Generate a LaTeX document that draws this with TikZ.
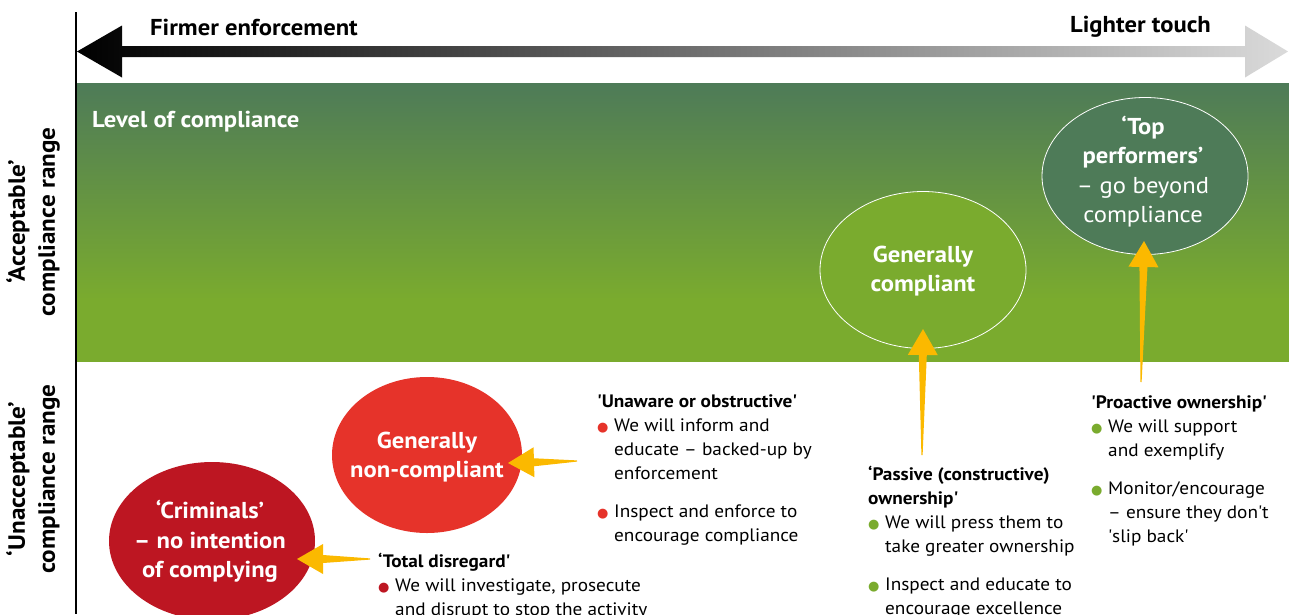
\documentclass[tikz,border=0pt]{standalone}
\usepackage{fontspec}
\setmainfont{PT Sans}[FakeStretch=1.07]
\newfontfamily\dejavu{DejaVu Sans}
\usetikzlibrary{shapes.geometric,calc}

\definecolor{crimred}{HTML}{BD1622}
\definecolor{ncred}{HTML}{E6332A}
\definecolor{leafgreen}{HTML}{7AAB2E}
\definecolor{pinegreen}{HTML}{4E7B58}
\definecolor{gold}{HTML}{FBB900}
\definecolor{lightgrey}{HTML}{DADADA}

% straight apostrophe and coloured bullet
\newcommand\stq{\textquotesingle}
\newcommand\bul[1]{\makebox[17pt][l]{\textcolor{#1}{\dejavu\fontsize{13}{13}\selectfont ●}}}
\newcommand\ind{\hspace*{17pt}}

% tapered gold arrow from tail #1 to tip #2
\newcommand\goldarrow[2]{%
  \path ($(#2)!26pt!(#1)$) coordinate (gaB);
  \fill[gold] (#2) -- ($(gaB)!15pt!90:(#2)$) -- ($(gaB)!4pt!90:(#2)$)
    -- ($(#1)!0.6pt!90:(#2)$) -- ($(#1)!0.6pt!-90:(#2)$)
    -- ($(gaB)!4pt!-90:(#2)$) -- ($(gaB)!15pt!-90:(#2)$) -- cycle;}

\tikzset{
  bubble/.style={ellipse, inner sep=0pt},
  bubbletext/.style={inner sep=0pt, text=white, align=center,
    font=\fontsize{23}{29.5}\selectfont\bfseries},
  block/.style={inner sep=0pt, align=left, anchor=north west,
    font=\fontsize{18}{24}\selectfont},
  sidelabel/.style={rotate=90, align=center, inner sep=0pt,
    font=\fontsize{23.5}{30}\selectfont\bfseries},
  toplabel/.style={inner sep=0pt, font=\fontsize{23}{26}\selectfont\bfseries}
}

\begin{document}
\begin{tikzpicture}[x=1pt,y=-1pt]
\useasboundingbox (0,0) rectangle (1289,614);
\clip (0,0) rectangle (1289,614);

% compliance band
\shade[top color=pinegreen, bottom color=leafgreen] (76,83) rectangle (1289,300);
\fill[leafgreen] (76,299.5) rectangle (1289,362);

% axis
\draw[line width=1.2pt] (76,12) -- (76,614);

% enforcement double arrow
\shade[left color=black, right color=lightgrey]
  (77,51.5) -- (122,25.5) -- (122,46) -- (1245,46) -- (1245,25.5)
  -- (1288,51.5) -- (1245,77.5) -- (1245,57) -- (122,57) -- (122,77.5) -- cycle;
\node[toplabel] (firm) at (254,27) {Firmer enforcement};
\node[toplabel] (light) at (1140.5,27) {Lighter touch};

\node[toplabel, text=white, anchor=west] (level) at (92,122) {Level of compliance};

% side labels
\node[sidelabel] (acc) at (33,222) {‘Acceptable’\\compliance range};
\node[sidelabel] (unacc) at (33,479) {‘Unacceptable’\\compliance range};

% bubbles
\node[bubble, fill=crimred, minimum width=206pt, minimum height=158pt] (crim) at (212,541) {};
\node[bubbletext] (crimtext) at (210,541.5) {‘Criminals’\\– no intention\\of complying};
\node[bubble, fill=ncred, minimum width=190pt, minimum height=156pt] (nonc) at (427,455) {};
\node[bubbletext] (nonctext) at (427,457) {Generally\\non-compliant};
\node[bubble, fill=leafgreen, draw=white, line width=0.8pt, minimum width=206pt, minimum height=157pt] (comp) at (923,270) {};
\node[bubbletext] (comptext) at (923,271) {Generally\\compliant};
\node[bubble, fill=pinegreen, draw=white, line width=0.8pt, minimum width=206pt, minimum height=157pt] (top) at (1145,176) {};
\node[bubbletext] (toptext) at (1143,171.5) {‘Top\\performers’\\\mdseries – go beyond\\\mdseries compliance};

% approach descriptions
\node[block] (total) at (378,553) {%
  \textbf{‘Total disregard\stq}\\
  \bul{crimred}We will investigate, prosecute\\
  \ind and disrupt to stop the activity};
\node[block] (unaware) at (597,394) {%
  \textbf{\stq Unaware or obstructive\stq}\\
  \bul{ncred}We will inform and\\
  \ind educate – backed-up by\\
  \ind enforcement\\[14pt]
  \bul{ncred}Inspect and enforce to\\
  \ind encourage compliance};
\node[block] (passive) at (868,465.5) {%
  \textbf{‘Passive (constructive)}\\
  \textbf{ownership\stq}\\
  \bul{leafgreen}We will press them to\\
  \ind take greater ownership\\[14pt]
  \bul{leafgreen}Inspect and educate to\\
  \ind encourage excellence};
\node[block] (proact) at (1091,395) {%
  \textbf{\stq Proactive ownership\stq}\\
  \bul{leafgreen}We will support\\
  \ind and exemplify\\[14pt]
  \bul{leafgreen}Monitor/encourage\\
  \ind – ensure they don\stq t\\
  \ind \stq slip back\stq};

% arrow ends
\coordinate (tailA) at (370,559);  \coordinate (tipA) at (297,559);
\coordinate (tailB) at (577,461);  \coordinate (tipB) at (508,463);
\coordinate (tailC) at (922,455);  \coordinate (tipC) at (923,329);
\coordinate (tailD) at (1141,382); \coordinate (tipD) at (1144,241);
\goldarrow{tailA}{tipA}
\goldarrow{tailB}{tipB}
\goldarrow{tailC}{tipC}
\goldarrow{tailD}{tipD}
\end{tikzpicture}
\end{document}
